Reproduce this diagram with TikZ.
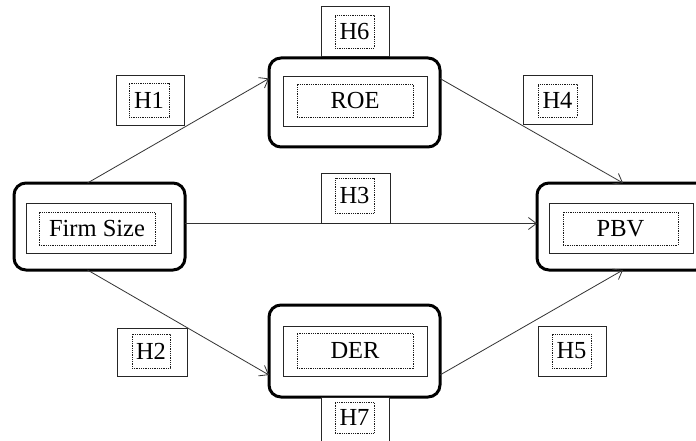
\documentclass[tikz,border=0pt]{standalone}
\usepackage{fontspec}
\setmainfont{Liberation Serif}
\usetikzlibrary{arrows.meta,calc}
\begin{document}
\begin{tikzpicture}[x=1pt,y=-1pt,
 outerbox/.style={draw=black, line width=3pt, rounded corners=12pt, outer sep=0pt, inner sep=0pt},
 innerbox/.style={draw=black!85, line width=1pt, inner sep=0pt, outer sep=0pt},
 txtbox/.style={draw=black!90, dash pattern=on 0.9pt off 0.9pt, line width=0.9pt, inner sep=0pt, outer sep=0pt, font=\fontsize{24.5}{28}\selectfont},
 hbox/.style={draw=black!85, line width=1pt, fill=white, inner sep=0pt, outer sep=0pt},
 link/.style={draw=black!80, line width=0.8pt, -{Straight Barb[length=8pt,width=12pt]}},
]
\useasboundingbox (0,0) rectangle (696,441);
\clip (0,0) rectangle (696,441);
\fill[white] (0,0) rectangle (696,441);

% main variable nodes
\node[outerbox, minimum width=171pt, minimum height=87pt] (firm) at (99.5,226.5) {};
\node[innerbox, minimum width=145pt, minimum height=50pt] (firmin) at (98.5,228) {};
\node[txtbox, minimum width=116pt, minimum height=33pt] (firmtxt) at (97,228.5) {Firm Size};

\node[outerbox, minimum width=171pt, minimum height=89pt] (roe) at (354.5,102.5) {};
\node[innerbox, minimum width=144pt, minimum height=50pt] (roein) at (355,102) {};
\node[txtbox, minimum width=116pt, minimum height=33pt] (roetxt) at (355,100.5) {ROE};

\node[outerbox, minimum width=171pt, minimum height=92pt] (der) at (354.5,351) {};
\node[innerbox, minimum width=144pt, minimum height=50pt] (derin) at (355,351) {};
\node[txtbox, minimum width=116pt, minimum height=35pt] (dertxt) at (355,350.5) {DER};

\node[outerbox, minimum width=171pt, minimum height=87pt] (pbv) at (622.5,226.5) {};
\node[innerbox, minimum width=144pt, minimum height=50pt] (pbvin) at (621,228) {};
\node[txtbox, minimum width=115pt, minimum height=33pt] (pbvtxt) at (620.5,228.5) {PBV};

% connectors
\draw[link] ($(firm.north)+(-12,0)$) -- ($(roe.west)+(0,-24)$);
\draw[link] ($(firm.south)+(-12,0)$) -- ($(der.west)+(0,24)$);
\draw[link] ($(firm.east)+(0,-3)$) -- ($(pbv.west)+(0,-3)$);
\draw[link] ($(roe.east)+(0,-24)$) -- ($(pbv.north)+(0.5,0)$);
\draw[link] ($(der.east)+(0,24)$) -- ($(pbv.south)+(0.5,0)$);

% hypothesis labels
\node[hbox, minimum width=68pt, minimum height=50pt] (h6) at (355,32) {};
\node[txtbox, minimum width=39pt, minimum height=33pt] (h6t) at (354.5,31.5) {H6};

\node[hbox, minimum width=68pt, minimum height=50pt] (h7) at (355,422) {};
\node[txtbox, minimum width=39pt, minimum height=31pt] (h7t) at (354.5,417.5) {H7};

\node[hbox, minimum width=68pt, minimum height=50pt] (h1) at (150,101) {};
\node[txtbox, minimum width=40pt, minimum height=34pt] (h1t) at (149,100) {H1};

\node[hbox, minimum width=70pt, minimum height=48pt] (h2) at (152,352) {};
\node[txtbox, minimum width=38pt, minimum height=34pt] (h2t) at (151,351) {H2};

\node[hbox, minimum width=69pt, minimum height=50pt] (h3) at (355.5,198) {};
\node[txtbox, minimum width=39pt, minimum height=35pt] (h3t) at (354.5,195.5) {H3};

\node[hbox, minimum width=69pt, minimum height=49pt] (h4) at (557.5,100.5) {};
\node[txtbox, minimum width=39pt, minimum height=33pt] (h4t) at (557.5,100.5) {H4};

\node[hbox, minimum width=68pt, minimum height=50pt] (h5) at (572,351) {};
\node[txtbox, minimum width=39pt, minimum height=34pt] (h5t) at (571.5,351) {H5};
\end{tikzpicture}
\end{document}
